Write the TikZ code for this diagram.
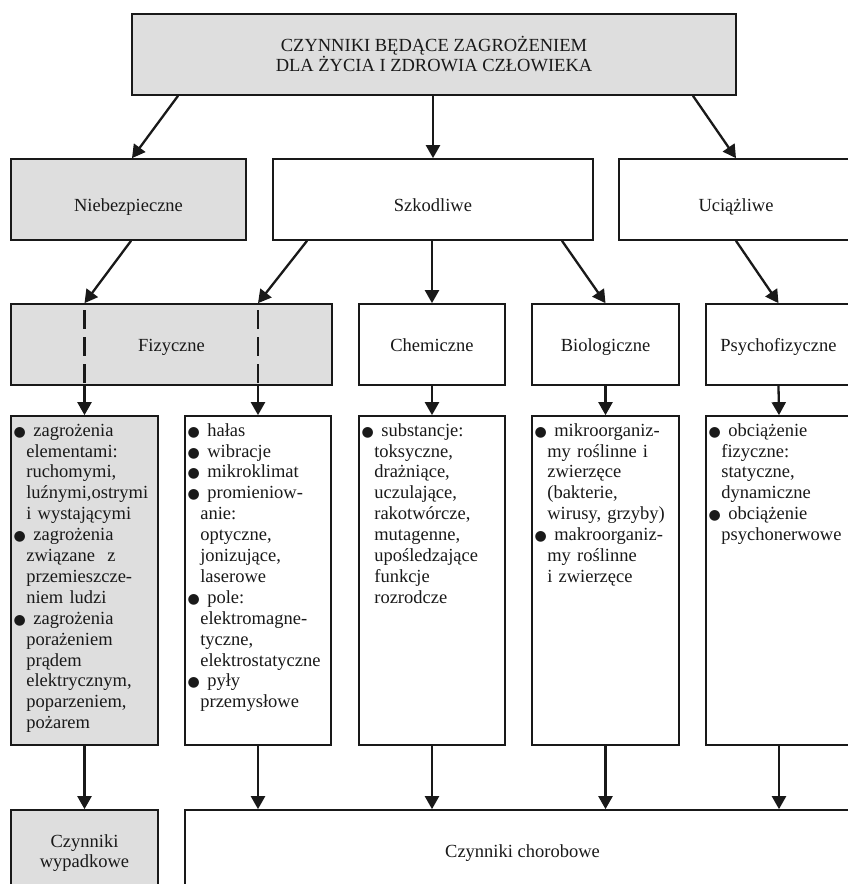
\documentclass[tikz,border=0pt]{standalone}
\usepackage{fontspec}
\setmainfont{Liberation Serif}
\newfontfamily\dejavu{DejaVu Sans}
\usetikzlibrary{arrows.meta}
\definecolor{boxgray}{RGB}{222,222,222}
\definecolor{ink}{RGB}{25,25,25}
\newcommand\bul{\leavevmode\llap{{\dejavu\fontsize{14}{14}\selectfont ●}\hspace*{0.5pt}}\hspace*{7pt}}
\newcommand\listfont{\fontsize{18.5}{20.9}\selectfont\lineskiplimit=-30pt\color{ink}}
\newcommand\headfont{\fontsize{18.5}{20}\selectfont\lineskiplimit=-30pt\color{ink}}
\tikzset{
  box/.style={draw=ink, line width=1.7pt, inner sep=0pt, align=center, font=\headfont},
  gbox/.style={box, fill=boxgray},
  rowtwo/.style={text height=23pt, text depth=0pt},
  rowthree/.style={text height=13.5pt, text depth=0pt},
  arr/.style={draw=ink, line width=2.3pt, -{Triangle[length=13pt,width=14pt]}},
  dsh/.style={draw=ink, line width=2.3pt, dash pattern=on 19pt off 8pt, dash phase=20pt},
  listtext/.style={anchor=base west, inner sep=0pt, text width=300pt, align=left, font=\listfont},
}
\begin{document}
\begin{tikzpicture}[x=1pt,y=-1pt]
\fill[white] (0,0) rectangle (847,884);
\useasboundingbox (0,0) rectangle (847,884);

% level 1
\node[gbox, minimum width=604pt, minimum height=81pt] (top) at (434,54.5)
  {CZYNNIKI BĘDĄCE ZAGROŻENIEM\\DLA ŻYCIA I ZDROWIA CZŁOWIEKA};

% level 2
\node[gbox, rowtwo, minimum width=235pt, minimum height=81pt] (nieb) at (128.5,199.5) {Niebezpieczne};
\node[box, rowtwo, minimum width=320pt, minimum height=81pt] (szk) at (433,199.5) {Szkodliwe};
\node[box, rowtwo, minimum width=234pt, minimum height=81pt] (uci) at (736,199.5) {Uciążliwe};

% level 3
\node[gbox, rowthree, minimum width=321pt, minimum height=81pt] (fiz) at (171.5,344.5) {Fizyczne};
\node[box, rowthree, minimum width=146pt, minimum height=81pt] (chem) at (432,344.5) {Chemiczne};
\node[box, rowthree, minimum width=147pt, minimum height=81pt] (bio) at (605.5,344.5) {Biologiczne};
\node[box, rowthree, minimum width=145pt, minimum height=81pt] (psy) at (778.5,344.5) {Psychofizyczne};

% level 4 (lists)
\node[gbox, minimum width=147pt, minimum height=329pt] (l1) at (84.5,580.5) {};
\node[box, minimum width=146pt, minimum height=329pt] (l2) at (258,580.5) {};
\node[box, minimum width=146pt, minimum height=329pt] (l3) at (432,580.5) {};
\node[box, minimum width=147pt, minimum height=329pt] (l4) at (605.5,580.5) {};
\node[box, minimum width=146pt, minimum height=329pt] (l5) at (779,580.5) {};

\node[listtext] (t1) at ([xshift=16pt,yshift=-21pt]l1.north west) {%
\bul zagrożenia\\
elementami:\\
ruchomymi,\\
luźnymi,ostrymi\\
i wystającymi\\
\bul zagrożenia\\
związane\ \ z\\
przemieszcze-\\
niem ludzi\\
\bul zagrożenia\\
porażeniem\\
prądem\\
elektrycznym,\\
poparzeniem,\\
pożarem};

\node[listtext] (t2) at ([xshift=16pt,yshift=-21pt]l2.north west) {%
\bul hałas\\
\bul wibracje\\
\bul mikroklimat\\
\bul promieniow-\\
anie:\\
optyczne,\\
jonizujące,\\
laserowe\\
\bul pole:\\
elektromagne-\\
tyczne,\\
elektrostatyczne\\
\bul pyły\\
przemysłowe};

\node[listtext] (t3) at ([xshift=16pt,yshift=-21pt]l3.north west) {%
\bul substancje:\\
toksyczne,\\
drażniące,\\
uczulające,\\
rakotwórcze,\\
mutagenne,\\
upośledzające\\
funkcje\\
rozrodcze};

\node[listtext] (t4) at ([xshift=16pt,yshift=-21pt]l4.north west) {%
\bul mikroorganiz-\\
my roślinne i\\
zwierzęce\\
(bakterie,\\
wirusy, grzyby)\\
\bul makroorganiz-\\
my roślinne\\
i zwierzęce};

\node[listtext] (t5) at ([xshift=16pt,yshift=-21pt]l5.north west) {%
\bul obciążenie\\
fizyczne:\\
statyczne,\\
dynamiczne\\
\bul obciążenie\\
psychonerwowe};

% level 5
\node[gbox, minimum width=147pt, minimum height=86pt] (wyp) at (84.5,853) {Czynniki\\wypadkowe};
\node[box, minimum width=675pt, minimum height=86pt] (chor) at (522.5,853) {Czynniki chorobowe};

% arrows level 1 -> 2
\draw[arr] ([xshift=-256pt]top.south) -- ([xshift=3.5pt]nieb.north);
\draw[arr] (top.south -| szk.north) -- (szk.north);
\draw[arr] ([xshift=259pt]top.south) -- (uci.north);

% arrows level 2 -> 3
\draw[arr] ([xshift=2.5pt]nieb.south) -- (fiz.north -| l1.north);
\draw[arr] ([xshift=-126pt]szk.south) -- (fiz.north -| l2.north);
\draw[arr] (szk.south -| chem.north) -- (chem.north);
\draw[arr] ([xshift=129pt]szk.south) -- (bio.north);
\draw[arr] (uci.south) -- (psy.north);

% dashed through Fizyczne, then arrows to lists
\draw[dsh] (fiz.north -| l1.north) -- (fiz.south -| l1.north);
\draw[dsh] (fiz.north -| l2.north) -- (fiz.south -| l2.north);
\draw[arr] (fiz.south -| l1.north) -- (l1.north);
\draw[arr] (fiz.south -| l2.north) -- (l2.north);
\draw[arr] (chem.south) -- (l3.north);
\draw[arr] (bio.south) -- (l4.north);
\draw[arr] (psy.south) -- (l5.north);

% arrows to bottom
\draw[arr] (l1.south) -- (wyp.north);
\draw[arr] (l2.south) -- (chor.north -| l2.south);
\draw[arr] (l3.south) -- (chor.north -| l3.south);
\draw[arr] (l4.south) -- (chor.north -| l4.south);
\draw[arr] (l5.south) -- (chor.north -| l5.south);
\end{tikzpicture}
\end{document}
